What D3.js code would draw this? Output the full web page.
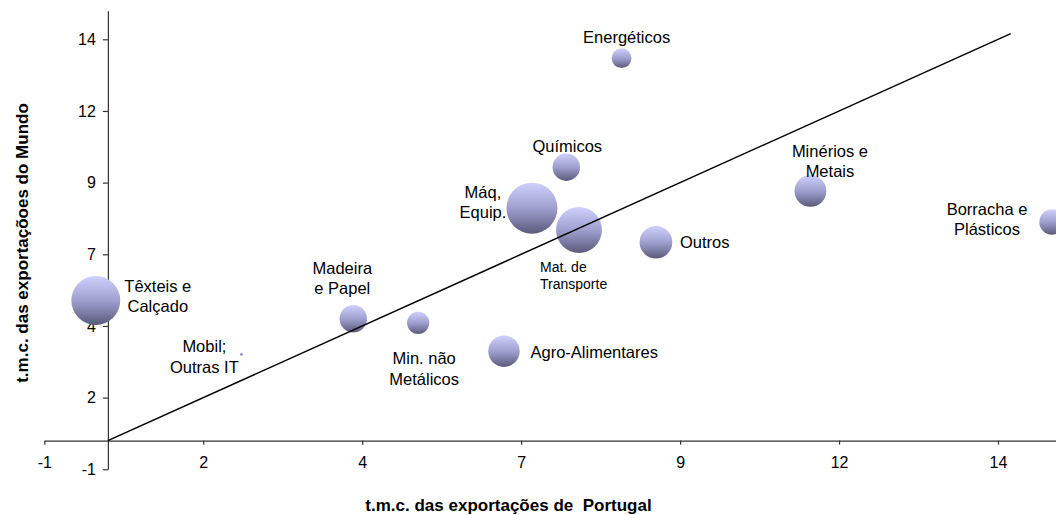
<!DOCTYPE html>
<html>
<head>
<meta charset="utf-8">
<script src="https://cdn.jsdelivr.net/npm/d3@7"></script>
<style>
  body { margin: 0; background: #fff; }
  svg { display: block; font-family: "Liberation Sans", Arial, sans-serif; }
</style>
</head>
<body>
<script>
const w = 1056;
const h = 515;

// sectores
const sectors = ["Têxteis e Calçado", "Mobil; Outras IT", "Madeira e Papel", "Min. não Metálicos",
  "Agro-Alimentares", "Máq, Equip.", "Mat. de Transporte", "Químicos", "Energéticos",
  "Outros", "Minérios e Metais", "Borracha e Plásticos"];
// t.m.c. exportações de Portugal
const xPortugal = [-0.19, 2.10, 3.86, 4.88, 6.23, 6.67, 7.41, 7.21, 8.08, 8.62, 11.05, 14.85];
// t.m.c. exportações do Mundo
const yMundo = [4.89, 3.02, 4.25, 4.11, 3.12, 8.11, 7.35, 9.54, 13.34, 6.92, 8.71, 7.63];
// peso (tamanho da bolha)
const peso = [9.2, 0.035, 2.9, 1.9, 3.8, 10, 8.1, 2.9, 1.5, 4.1, 3.9, 2.5];

const xTickValues = [-1, 1.5, 4, 6.5, 9, 11.5, 14];
const xTickLabels = ["-1", "2", "4", "7", "9", "12", "14"];
const yTickValues = [-1, 1.5, 4, 6.5, 9, 11.5, 14];
const yTickLabels = ["-1", "2", "4", "7", "9", "12", "14"];

// linha de 45 graus
const diagonal = [0, 14.2];

// posição das etiquetas (px, relativo ao centro da bolha)
const labelLayout = [
  { lines: ["Têxteis e", "Calçado"], dx: 62, dy: -8, anchor: "middle", lh: 20 },
  { lines: ["Mobil;", "Outras IT"], dx: -37, dy: -2, anchor: "middle", lh: 21 },
  { lines: ["Madeira", "e Papel"], dx: -11, dy: -45, anchor: "middle", lh: 20 },
  { lines: ["Min. não", "Metálicos"], dx: 6, dy: 41.5, anchor: "middle", lh: 21 },
  { lines: ["Agro-Alimentares"], dx: 26.5, dy: 7, anchor: "start", lh: 20 },
  { lines: ["Máq,", "Equip."], dx: -49, dy: -10, anchor: "middle", lh: 20 },
  { lines: ["Mat. de", "Transporte"], dx: -39, dy: 41.7, anchor: "start", lh: 17, size: 14 },
  { lines: ["Químicos"], dx: 1, dy: -14.7, anchor: "middle", lh: 20 },
  { lines: ["Energéticos"], dx: 5, dy: -15, anchor: "middle", lh: 20 },
  { lines: ["Outros"], dx: 24, dy: 6, anchor: "start", lh: 20 },
  { lines: ["Minérios e", "Metais"], dx: 19.5, dy: -34, anchor: "middle", lh: 20 },
  { lines: ["Borracha e", "Plásticos"], dx: -65, dy: -7, anchor: "middle", lh: 20 }
];

const dataset = sectors.map((s, i) => ({ name: s, x: xPortugal[i], y: yMundo[i], size: peso[i], label: labelLayout[i] }));

const svg = d3.select("body")
  .append("svg")
  .attr("width", w)
  .attr("height", h);

const defs = svg.append("defs");
const grad = defs.append("linearGradient")
  .attr("id", "bubbleGrad")
  .attr("x1", 0).attr("y1", 0)
  .attr("x2", 0).attr("y2", 1);
grad.append("stop").attr("offset", "0%").attr("stop-color", "#d0d0fc");
grad.append("stop").attr("offset", "50%").attr("stop-color", "#a0a0d0");
grad.append("stop").attr("offset", "100%").attr("stop-color", "#5a5a7c");

const xScale = d3.scaleLinear()
  .domain([-1, 16])
  .range([44.3, 44.3 + 17 * 63.58]);

const yScale = d3.scaleLinear()
  .domain([-1, 15])
  .range([469.3, 469.3 - 16 * 28.667]);

const rScale = d3.scaleSqrt()
  .domain([0, 10])
  .range([0, 25.5]);

// eixos
const xAxis = d3.axisBottom(xScale)
  .tickValues(xTickValues)
  .tickFormat((d, i) => xTickLabels[i])
  .tickSizeInner(4)
  .tickSizeOuter(0)
  .tickPadding(12.5);

const yAxis = d3.axisLeft(yScale)
  .tickValues(yTickValues)
  .tickFormat((d, i) => yTickLabels[i])
  .tickSizeInner(5)
  .tickSizeOuter(0)
  .tickPadding(7);

const gx = svg.append("g")
  .attr("transform", `translate(0, ${yScale(0)})`)
  .call(xAxis);

const gy = svg.append("g")
  .attr("transform", `translate(${xScale(0)}, 0)`)
  .call(yAxis);

[gx, gy].forEach(g => {
  g.select(".domain").attr("stroke", "#333").attr("stroke-width", 1.2);
  g.selectAll(".tick line").attr("stroke", "#333").attr("stroke-width", 1.2);
  g.selectAll(".tick text")
    .attr("fill", "#000")
    .style("font-family", "'Liberation Sans', Arial, sans-serif")
    .style("font-size", "16px");
});

// bolhas
svg.append("g")
  .selectAll("circle")
  .data(dataset)
  .enter()
  .append("circle")
  .attr("cx", d => xScale(d.x))
  .attr("cy", d => yScale(d.y))
  .attr("r", d => Math.max(rScale(d.size), 1.5))
  .attr("fill", "url(#bubbleGrad)");

// linha y = x
svg.append("line")
  .attr("x1", xScale(diagonal[0]))
  .attr("y1", yScale(diagonal[0]))
  .attr("x2", xScale(diagonal[1]))
  .attr("y2", yScale(diagonal[1]))
  .attr("stroke", "#000")
  .attr("stroke-width", 1.5);

// etiquetas
const labels = svg.append("g")
  .selectAll("text")
  .data(dataset)
  .enter()
  .append("text")
  .attr("text-anchor", d => d.label.anchor)
  .style("font-size", d => (d.label.size || 16.5) + "px")
  .attr("fill", "#000");

labels.each(function(d) {
  const t = d3.select(this);
  d.label.lines.forEach((line, i) => {
    t.append("tspan")
      .attr("x", xScale(d.x) + d.label.dx)
      .attr("y", yScale(d.y) + d.label.dy + i * d.label.lh)
      .text(line);
  });
});

// títulos
svg.append("text")
  .text("t.m.c. das exportações de  Portugal")
  .attr("x", 508.5)
  .attr("y", 510.5)
  .attr("text-anchor", "middle")
  .style("white-space", "pre")
  .attr("xml:space", "preserve")
  .style("font-weight", "bold")
  .style("font-size", "17px");

svg.append("text")
  .text("t.m.c. das exportaçõoes do Mundo")
  .attr("transform", "translate(27.5, 243) rotate(-90)")
  .attr("text-anchor", "middle")
  .style("font-weight", "bold")
  .style("font-size", "17px");
</script>
</body>
</html>
